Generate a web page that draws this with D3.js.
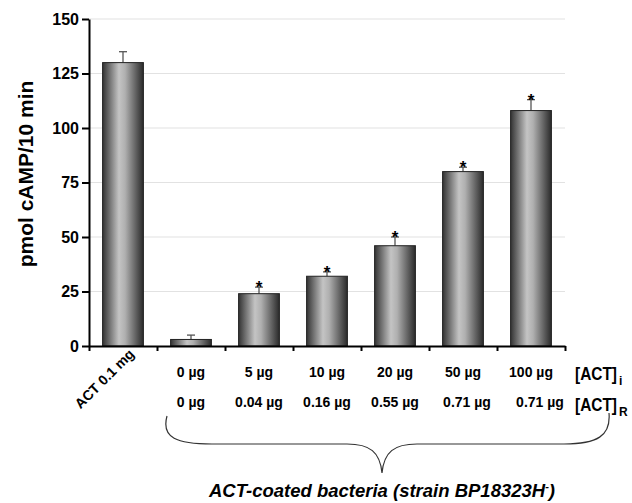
<!DOCTYPE html>
<html>
<head>
<meta charset="utf-8">
<script src="https://cdn.jsdelivr.net/npm/d3@7"></script>
<style>
  body { margin: 0; background: #fff; }
  svg { font-family: "Liberation Sans", Arial, sans-serif; }
  .tick text { font-weight: bold; }
</style>
</head>
<body>
<svg id="chart" width="632" height="503"></svg>
<script>
/*
    Chart data
 */
var categories = ["ACT 0.1 mg", "0 µg", "5 µg", "10 µg", "20 µg", "50 µg", "100 µg"];
var actI = ["", "0 µg", "5 µg", "10 µg", "20 µg", "50 µg", "100 µg"];
var actR = ["", "0 µg", "0.04 µg", "0.16 µg", "0.55 µg", "0.71 µg", "0.71 µg"];
var values = [130, 3, 24, 32, 46, 80, 108];
var errors = [5, 2, 3, 2, 4, 2, 5];
var significant = [false, false, true, true, true, true, true];
var yTicks = [0, 25, 50, 75, 100, 125, 150];

var svg = d3.select("#chart");

var plotLeft = 89, plotRight = 565, plotTop = 19, plotBottom = 346;

var x = d3.scaleBand()
    .domain(categories)
    .range([plotLeft, plotRight])
    .paddingInner(0.4)
    .paddingOuter(0.2);

var y = d3.scaleLinear()
    .domain([0, 150])
    .range([plotBottom, plotTop]);

// bar gradient, dark edges and light middle
var grad = svg.append("defs").append("linearGradient")
    .attr("id", "barFill")
    .attr("x1", "0%").attr("x2", "100%")
    .attr("y1", "0%").attr("y2", "0%");
grad.append("stop").attr("offset", "0%").attr("stop-color", "#333");
grad.append("stop").attr("offset", "40%").attr("stop-color", "#c4c4c4");
grad.append("stop").attr("offset", "55%").attr("stop-color", "#b0b0b0");
grad.append("stop").attr("offset", "100%").attr("stop-color", "#2a2a2a");

// grid lines
svg.append("g")
    .selectAll("line")
    .data(yTicks.filter(function(d){ return d > 0; }))
    .enter().append("line")
    .attr("x1", plotLeft).attr("x2", plotRight)
    .attr("y1", function(d){ return y(d); })
    .attr("y2", function(d){ return y(d); })
    .attr("stroke", "#e2e2e2")
    .attr("stroke-width", 1.2);

// error bars (upper only)
var err = svg.append("g").selectAll("g")
    .data(categories)
    .enter().append("g");

err.append("line")
    .attr("x1", function(d){ return x(d) + x.bandwidth() / 2; })
    .attr("x2", function(d){ return x(d) + x.bandwidth() / 2; })
    .attr("y1", function(d, i){ return y(values[i]); })
    .attr("y2", function(d, i){ return y(values[i] + errors[i]); })
    .attr("stroke", "#555")
    .attr("stroke-width", 1.3);

err.append("line")
    .attr("x1", function(d){ return x(d) + x.bandwidth() / 2 - 4; })
    .attr("x2", function(d){ return x(d) + x.bandwidth() / 2 + 4; })
    .attr("y1", function(d, i){ return y(values[i] + errors[i]); })
    .attr("y2", function(d, i){ return y(values[i] + errors[i]); })
    .attr("stroke", "#555")
    .attr("stroke-width", 1.3);

// bars
svg.append("g")
    .selectAll("rect")
    .data(categories)
    .enter().append("rect")
    .attr("x", function(d){ return x(d); })
    .attr("y", function(d, i){ return y(values[i]); })
    .attr("width", x.bandwidth())
    .attr("height", function(d, i){ return y(0) - y(values[i]); })
    .attr("fill", "url(#barFill)")
    .attr("stroke", "#222")
    .attr("stroke-width", 1);

// significance stars
svg.append("g")
    .selectAll("text")
    .data(categories.filter(function(d, i){ return significant[i]; }))
    .enter().append("text")
    .attr("x", function(d){ return x(d) + x.bandwidth() / 2; })
    .attr("y", function(d){
        var i = categories.indexOf(d);
        return y(values[i] + errors[i]) + 6;
    })
    .attr("text-anchor", "middle")
    .style("font-size", "17px")
    .style("font-weight", "bold")
    .text("*");

// y axis
var yAxis = svg.append("g")
    .attr("transform", "translate(" + plotLeft + ",0)")
    .call(d3.axisLeft(y).tickValues(yTicks).tickSize(7).tickSizeOuter(0).tickPadding(3));
yAxis.selectAll("text").style("font-size", "16px").attr("fill", "#000");
yAxis.selectAll("line, path").attr("stroke", "#000").attr("stroke-width", 2);

// x axis, ticks on band boundaries
var xEdges = d3.scaleLinear().domain([0, categories.length]).range([plotLeft, plotRight]);
var xAxis = svg.append("g")
    .attr("transform", "translate(0," + plotBottom + ")")
    .call(d3.axisBottom(xEdges).ticks(categories.length).tickSize(5).tickSizeOuter(0).tickFormat(""));
xAxis.selectAll("line, path").attr("stroke", "#000").attr("stroke-width", 2);

// y label
svg.append("text")
    .attr("transform", "translate(33,174) rotate(-90)")
    .attr("text-anchor", "middle")
    .style("font-size", "21px")
    .style("font-weight", "bold")
    .text("pmol cAMP/10 min");

// rotated first category label
svg.append("text")
    .attr("transform", "translate(" + (x(categories[0]) + x.bandwidth() / 2 + 12) + ",355) rotate(-45)")
    .attr("text-anchor", "end")
    .style("font-size", "14px")
    .style("font-weight", "bold")
    .text(categories[0]);

// two rows of dose labels
var rows = svg.append("g")
    .style("font-size", "14px")
    .style("font-weight", "bold")
    .attr("text-anchor", "middle");

rows.selectAll(".rowI")
    .data(actI.slice(1))
    .enter().append("text")
    .attr("class", "rowI")
    .attr("x", function(d, i){ return x(categories[i + 1]) + x.bandwidth() / 2; })
    .attr("y", 377)
    .text(function(d){ return d; });

rows.selectAll(".rowR")
    .data(actR.slice(1))
    .enter().append("text")
    .attr("class", "rowR")
    .attr("x", function(d, i){ return x(categories[i + 1]) + x.bandwidth() / 2 + (i === 5 ? 9 : (i === 4 ? 4 : 0)); })
    .attr("y", 407)
    .text(function(d){ return d; });

// row names (condensed like the original)
var lab1 = svg.append("text").attr("y", 380)
    .style("font-size", "19px").style("font-weight", "bold");
lab1.append("tspan").attr("x", 575).attr("textLength", 42).attr("lengthAdjust", "spacingAndGlyphs").text("[ACT]");
lab1.append("tspan").attr("x", 619).attr("dy", 5).style("font-size", "12px").text("i");

var lab2 = svg.append("text").attr("y", 411)
    .style("font-size", "19px").style("font-weight", "bold");
lab2.append("tspan").attr("x", 575).attr("textLength", 42).attr("lengthAdjust", "spacingAndGlyphs").text("[ACT]");
lab2.append("tspan").attr("x", 619).attr("dy", 5).style("font-size", "12px").text("R");

// curly brace
var bx0 = 167, bx1 = 609, bxm = 382, byTop = 416, byMid = 444, byTip = 473;
var brace = d3.path();
brace.moveTo(bx0, byTop);
brace.bezierCurveTo(bx0 - 6, byTop + 22, bx0 + 10, byMid, bx0 + 45, byMid);
brace.lineTo(bxm - 35, byMid);
brace.bezierCurveTo(bxm - 12, byMid, bxm - 2, byMid + 8, bxm, byTip);
brace.bezierCurveTo(bxm + 2, byMid + 8, bxm + 12, byMid, bxm + 35, byMid);
brace.lineTo(bx1 - 45, byMid);
brace.bezierCurveTo(bx1 - 12, byMid, bx1 + 2, byTop + 20, bx1, byTop - 3);
svg.append("path")
    .attr("d", brace.toString())
    .attr("fill", "none")
    .attr("stroke", "#333")
    .attr("stroke-width", 1.2);

// bottom caption
var cap = svg.append("text")
    .attr("x", 382).attr("y", 497)
    .attr("text-anchor", "middle")
    .style("font-size", "18.5px")
    .style("font-weight", "bold")
    .style("font-style", "italic");
cap.append("tspan").text("ACT-coated bacteria (strain BP18323H");
cap.append("tspan").attr("dy", -7).style("font-size", "11px").text("-");
cap.append("tspan").attr("dy", 7).text(")");
</script>
</body>
</html>
